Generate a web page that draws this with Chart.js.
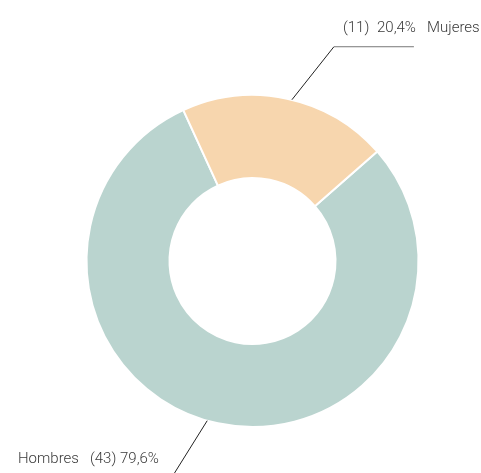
<!DOCTYPE html>
<html>
<head>
<meta charset="utf-8">
<script src="https://cdn.jsdelivr.net/npm/chart.js@4/dist/chart.umd.min.js"></script>
<style>
html, body { margin: 0; padding: 0; background: #fff; }
#wrap { width: 481px; height: 473px; }
</style>
</head>
<body>
<div id="wrap"><canvas id="genderChart" width="481" height="473"></canvas></div>
<script>
var categories = ['Hombres', 'Mujeres'];
var counts = [43, 11];
var sliceColors = ['#bad4cf', '#f7d6ae'];

var total = counts.reduce(function (a, b) { return a + b; }, 0);
function pct(v) {
    return (v / total * 100).toFixed(1).replace('.', ',') + '%';
}

// where each leader line and label goes
var labelLayout = [
    { angleShift: 3.8, dx: -40, dy: 64, hLine: 0, baseline: 463,
      pieces: [[categories[0], 18], ['(' + counts[0] + ')', 90], [pct(counts[0]), 120]] },
    { angleShift: 1.7, dx: 42, dy: -53, hLine: 80, baseline: 32,
      pieces: [['(' + counts[1] + ')', 343], [pct(counts[1]), 377], [categories[1], 427]] }
];

var leaderLabels = {
    id: 'leaderLabels',
    afterDraw: function (chart) {
        var ctx = chart.ctx;
        var meta = chart.getDatasetMeta(0);
        meta.data.forEach(function (arc, i) {
            var lay = labelLayout[i];
            var p = arc.getProps(['x', 'y', 'startAngle', 'endAngle', 'outerRadius'], true);
            var mid = (p.startAngle + p.endAngle) / 2 + lay.angleShift * Math.PI / 180;
            var ax = p.x + Math.cos(mid) * p.outerRadius;
            var ay = p.y + Math.sin(mid) * p.outerRadius;
            var ex = ax + lay.dx, ey = ay + lay.dy;
            ctx.save();
            ctx.lineWidth = 1;
            ctx.strokeStyle = '#222';
            ctx.beginPath();
            ctx.moveTo(ax, ay);
            ctx.lineTo(ex, ey);
            ctx.stroke();
            if (lay.hLine) {
                ctx.strokeStyle = '#777';
                ctx.beginPath();
                ctx.moveTo(ex, ey);
                ctx.lineTo(ex + lay.hLine, ey);
                ctx.stroke();
            }
            ctx.fillStyle = '#3a3a3a';
            ctx.font = '300 15px Roboto';
            ctx.textBaseline = 'alphabetic';
            ctx.textAlign = 'left';
            lay.pieces.forEach(function (pc) {
                ctx.fillText(pc[0], pc[1], lay.baseline);
            });
            ctx.restore();
        });
    }
};

var ctx = document.getElementById('genderChart').getContext('2d');
var genderChart = new Chart(ctx, {
    type: 'doughnut',
    data: {
        labels: categories,
        datasets: [{
            data: counts,
            backgroundColor: sliceColors,
            borderColor: '#ffffff',
            borderWidth: 2
        }]
    },
    options: {
        responsive: false,
        animation: false,
        rotation: 48.7,
        cutout: '50%',
        layout: { padding: { left: 85.5, right: 61.5, top: 94, bottom: 45 } },
        plugins: {
            legend: { display: false },
            tooltip: { enabled: false }
        }
    },
    plugins: [leaderLabels]
});
</script>
</body>
</html>
